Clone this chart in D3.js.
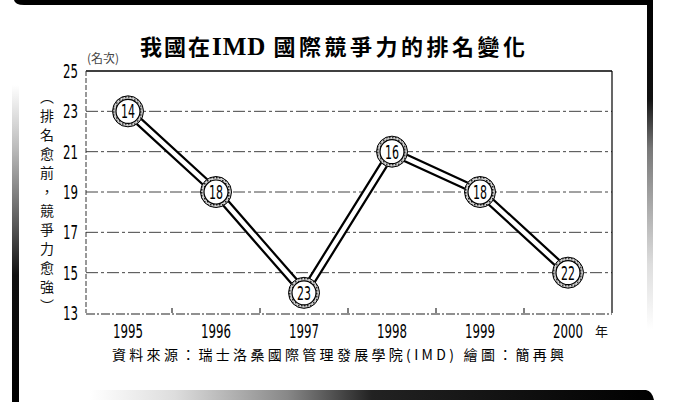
<!DOCTYPE html>
<html>
<head>
<meta charset="utf-8">
<script src="https://cdn.jsdelivr.net/npm/d3@7/dist/d3.min.js"></script>
<style>
  html, body { margin: 0; padding: 0; background: #fff; }
  svg { display: block; }
  .num { font-family: "Liberation Sans Narrow", "DejaVu Sans Condensed", "Roboto", sans-serif; }
  .cjk { font-family: "Noto Sans CJK TC", "Noto Sans CJK SC", sans-serif; }
  .serif { font-family: "Liberation Serif", "DejaVu Serif", serif; }
</style>
</head>
<body>
<div id="chart"></div>
<script>
// --- data ---
const years = ["1995", "1996", "1997", "1998", "1999", "2000"];
// position on the printed axis (the axis runs 13..25, higher = better)
const axisValues = [23, 19, 14, 21, 19, 15];
// actual IMD rank printed in each circle
const rankLabels = ["14", "18", "23", "16", "18", "22"];
const yTicks = [13, 15, 17, 19, 21, 23, 25];

const titleParts = [["我國在", "cjk"], ["IMD", "serif"], ["國際競爭力的排名變化", "cjk"]];
const unitText = "(名次)";
const sideNote = ["︵", "排", "名", "愈", "前", "，", "競", "爭", "力", "愈", "強", "︶"];
const sourceText = "資料來源：瑞士洛桑國際管理發展學院(IMD) 繪圖：簡再興";

const W = 680, H = 404;
const plot = { left: 86, right: 612, top: 71, bottom: 313 };

const svg = d3.select("#chart").append("svg")
  .attr("width", W).attr("height", H);

const defs = svg.append("defs");

// stippled fill for the circle rings (scanned halftone look)
const dots = defs.append("pattern")
  .attr("id", "dots").attr("patternUnits", "userSpaceOnUse")
  .attr("width", 3).attr("height", 3);
dots.append("rect").attr("width", 3).attr("height", 3).attr("fill", "#d0d0d0");
dots.append("rect").attr("width", 1.5).attr("height", 1.5).attr("fill", "#222");

// frame gradients
function linGrad(id, x1, y1, x2, y2, stops) {
  const g = defs.append("linearGradient").attr("id", id)
    .attr("x1", x1).attr("y1", y1).attr("x2", x2).attr("y2", y2);
  stops.forEach(([o, c]) => g.append("stop").attr("offset", o).attr("stop-color", c));
}
linGrad("leftBar", 0, 0, 0, 1, [[0, "#fff"], [0.2, "#bbb"], [0.45, "#555"], [0.6, "#111"], [1, "#000"]]);
linGrad("rightBar", 0, 0, 0, 1, [[0, "#000"], [0.3, "#111"], [0.45, "#777"], [0.8, "#ddd"], [1, "#fff"]]);
linGrad("bottomBar", 0, 0, 1, 0, [[0, "#fff"], [0.15, "#ddd"], [0.35, "#888"], [0.5, "#222"], [1, "#000"]]);

// --- frame ---
svg.append("path")
  .attr("d", "M14,0 H652 V5 H24 Q15,5 14,0 Z")
  .attr("fill", "#000");
svg.append("rect").attr("x", 647).attr("y", 0).attr("width", 6).attr("height", 330)
  .attr("fill", "url(#rightBar)");
svg.append("rect").attr("x", 12).attr("y", 85).attr("width", 7).attr("height", 317)
  .attr("fill", "url(#leftBar)");
svg.append("path")
  .attr("d", "M90,390 H646 Q652,391 654,400 H90 Z")
  .attr("fill", "url(#bottomBar)");

// --- scales ---
const x = d3.scaleBand().domain(years).range([84, plot.right]);
const y = d3.scaleLinear().domain([13, 25]).range([plot.bottom, plot.top]);
const cx = d => x(d) + x.bandwidth() / 2;

// gridlines
svg.append("g").selectAll("line")
  .data(yTicks.filter(t => t > 13 && t < 25))
  .join("line")
  .attr("x1", plot.left).attr("x2", plot.right)
  .attr("y1", d => y(d)).attr("y2", d => y(d))
  .attr("stroke", "#444").attr("stroke-width", 1)
  .attr("stroke-dasharray", "12,3,3,3");

// plot border: solid top and right, dashed left and bottom
svg.append("line").attr("x1", plot.left).attr("x2", plot.right)
  .attr("y1", y(25)).attr("y2", y(25)).attr("stroke", "#000").attr("stroke-width", 1.3);
svg.append("line").attr("x1", plot.right).attr("x2", plot.right)
  .attr("y1", y(25)).attr("y2", y(13)).attr("stroke", "#000").attr("stroke-width", 1.2);
svg.append("line").attr("x1", plot.left).attr("x2", plot.left)
  .attr("y1", y(25)).attr("y2", y(13)).attr("stroke", "#333").attr("stroke-width", 1)
  .attr("stroke-dasharray", "5,2");
svg.append("line").attr("x1", plot.left).attr("x2", plot.right)
  .attr("y1", y(13) + 1).attr("y2", y(13) + 1).attr("stroke", "#222").attr("stroke-width", 1.2)
  .attr("stroke-dasharray", "9,2,2,2");

// x ticks at band boundaries, pointing up
svg.append("g").selectAll("line")
  .data(years.slice(1))
  .join("line")
  .attr("x1", d => x(d)).attr("x2", d => x(d))
  .attr("y1", y(13)).attr("y2", y(13) - 5)
  .attr("stroke", "#000").attr("stroke-width", 1);

// y tick labels (tall, condensed digits)
svg.append("g").selectAll("text")
  .data(yTicks)
  .join("text")
  .attr("class", "num")
  .attr("x", 63).attr("y", d => y(d) + 7)
  .attr("font-size", 19)
  .attr("textLength", 15).attr("lengthAdjust", "spacingAndGlyphs")
  .attr("fill", "#000")
  .text(d => d);

// x labels
svg.append("g").selectAll("text")
  .data(years)
  .join("text")
  .attr("class", "num")
  .attr("x", d => cx(d) - 15).attr("y", 338)
  .attr("font-size", 19)
  .attr("textLength", 30).attr("lengthAdjust", "spacingAndGlyphs")
  .attr("fill", "#000")
  .text(d => d);
svg.append("text").attr("class", "cjk")
  .attr("x", 595).attr("y", 336)
  .attr("font-size", 13).attr("fill", "#111")
  .text("年");

// --- the tube line ---
const pts = years.map((yr, i) => [cx(yr), y(axisValues[i])]);
const lineGen = d3.line();
svg.append("path").attr("d", lineGen(pts))
  .attr("fill", "none").attr("stroke", "#000").attr("stroke-width", 9)
  .attr("stroke-linejoin", "round");
svg.append("path").attr("d", lineGen(pts))
  .attr("fill", "none").attr("stroke", "#fff").attr("stroke-width", 4.5)
  .attr("stroke-linejoin", "round");

// circles with rank numbers
const marks = svg.append("g").selectAll("g")
  .data(years.map((yr, i) => ({ yr, v: axisValues[i], label: rankLabels[i] })))
  .join("g")
  .attr("transform", d => `translate(${cx(d.yr)},${y(d.v)})`);
marks.append("circle").attr("r", 15.5)
  .attr("fill", "url(#dots)").attr("stroke", "#000").attr("stroke-width", 1);
marks.append("circle").attr("r", 12)
  .attr("fill", "#fff").attr("stroke", "#000").attr("stroke-width", 1.2);
marks.append("text")
  .attr("class", "num")
  .attr("x", -7).attr("y", 7)
  .attr("font-size", 20).attr("fill", "#000")
  .attr("textLength", 14).attr("lengthAdjust", "spacingAndGlyphs")
  .text(d => d.label);

// --- texts ---
const title = svg.append("text")
  .attr("x", 140).attr("y", 55)
  .attr("font-weight", 700).attr("fill", "#000");
title.selectAll("tspan")
  .data(titleParts)
  .join("tspan")
  .attr("class", d => d[1])
  .attr("font-size", (d, i) => i === 1 ? 25 : 22)
  .attr("letter-spacing", (d, i) => [2, 1, 3.5][i])
  .attr("dx", (d, i) => [0, 0, 7][i])
  .text(d => d[0]);

svg.append("text").attr("class", "cjk")
  .attr("x", 87).attr("y", 63)
  .attr("font-size", 12).attr("fill", "#444")
  .text(unitText);

svg.append("g").selectAll("text")
  .data(sideNote)
  .join("text")
  .attr("class", "cjk")
  .attr("x", 47).attr("y", (d, i) => 96 + i * 19)
  .attr("text-anchor", "middle").attr("dominant-baseline", "central")
  .attr("font-size", 14).attr("fill", "#111")
  .text(d => d);

svg.append("text").attr("class", "cjk")
  .attr("x", 112).attr("y", 360)
  .attr("font-size", 14).attr("fill", "#000")
  .attr("letter-spacing", 3.3)
  .text(sourceText);
</script>
</body>
</html>
